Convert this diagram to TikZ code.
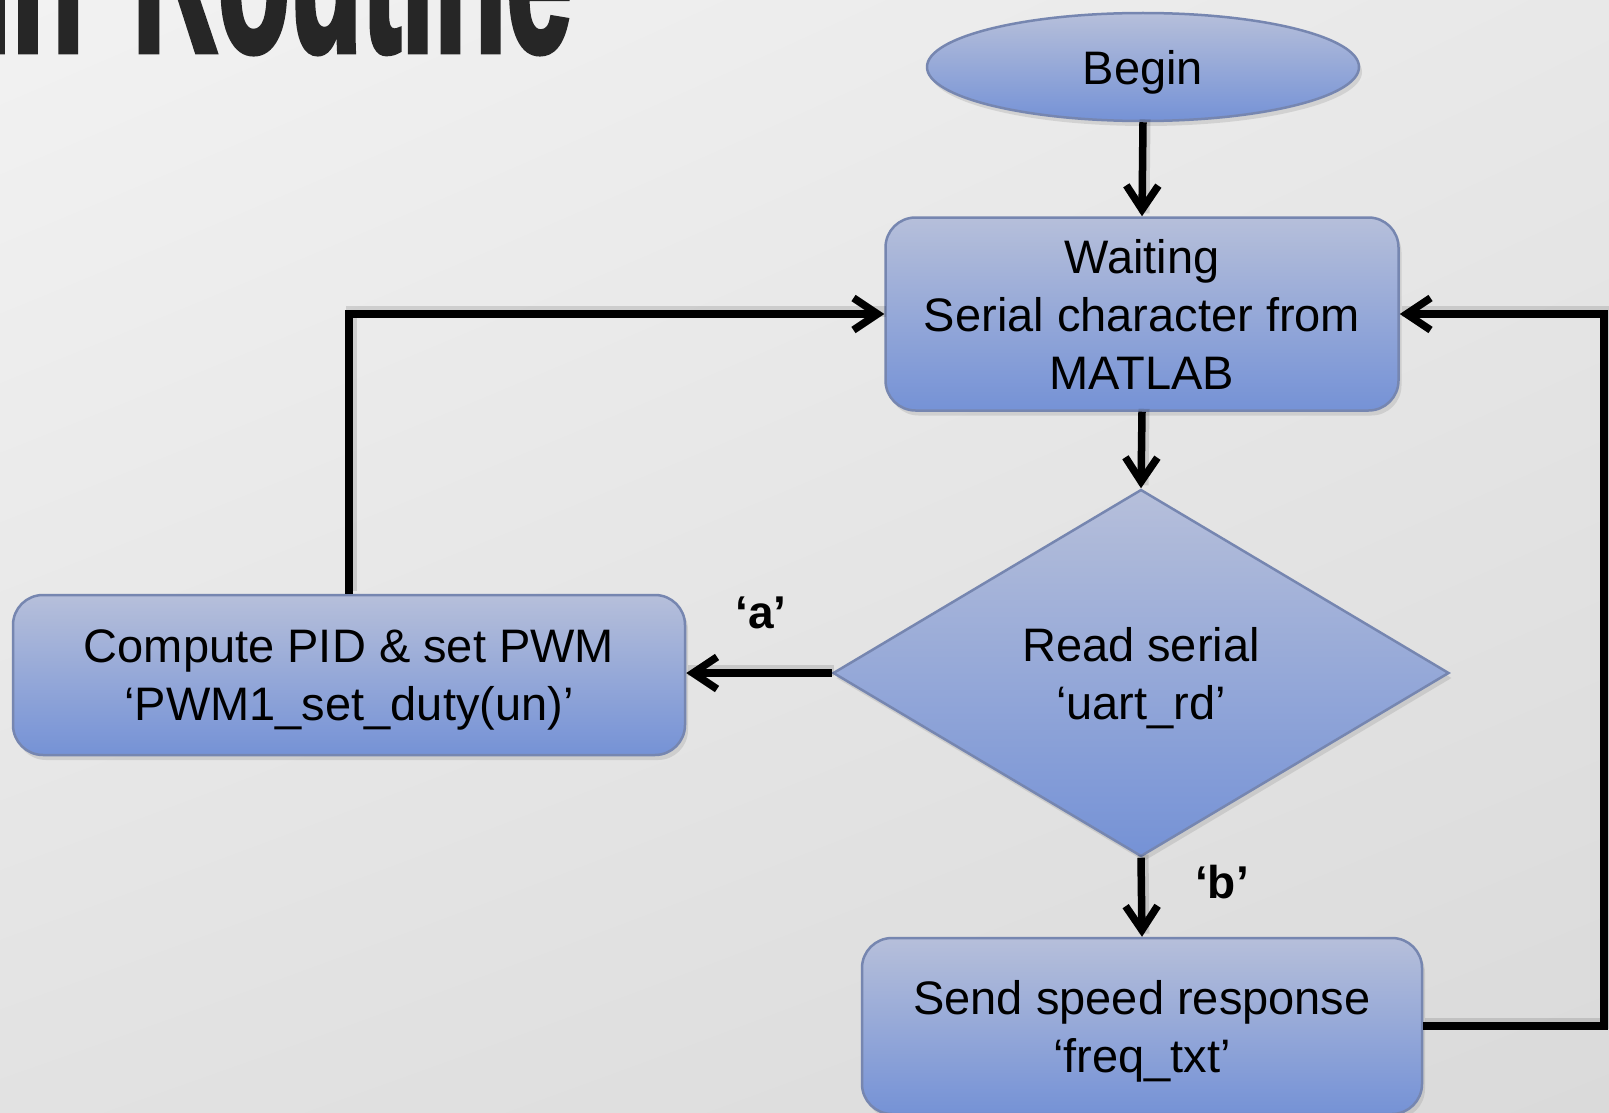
\documentclass[tikz,border=0pt]{standalone}
\usepackage{fontspec}
\setmainfont{Liberation Sans}
\newfontfamily\headingfont{Liberation Sans}[FakeBold=3]
\usetikzlibrary{arrows.meta,shapes.geometric,shadows,shadings}
\definecolor{boxtop}{RGB}{182,191,218}
\definecolor{boxbot}{RGB}{117,146,214}
\definecolor{boxedge}{RGB}{118,134,176}
\definecolor{titleink}{RGB}{38,38,38}
\definecolor{bgA}{RGB}{242,242,242}
\definecolor{bgB}{RGB}{232,232,232}
\definecolor{bgC}{RGB}{226,226,226}
\definecolor{bgD}{RGB}{218,218,218}

\begin{document}
\begin{tikzpicture}[x=1pt,y=-1pt,
  shapebase/.style={draw=boxedge, line width=2.5pt, top color=boxtop, bottom color=boxbot,
    align=center, inner sep=0pt, text depth=0pt, font=\fontsize{47}{58}\selectfont,
    drop shadow={opacity=0.22, shadow xshift=3pt, shadow yshift=-5pt}},
  flowbox/.style={shapebase, rounded corners=30pt},
  terminal/.style={shapebase, ellipse},
  decision/.style={shapebase, diamond},
  flowarrow/.style={line width=7.5pt, line join=miter,
    -{Straight Barb[length=24pt,width=32pt]},
    preaction={draw=black, opacity=0.12, line width=11pt, -,
      transform canvas={shift={(2pt,3pt)}}}},
  caselabel/.style={font=\fontsize{46}{46}\selectfont\bfseries, inner sep=0pt}
]
% page area and background
\useasboundingbox (0,0) rectangle (1609,1113);
\clip (0,0) rectangle (1609,1113);
\shade[upper left=bgA, upper right=bgB, lower left=bgC, lower right=bgD] (0,0) rectangle (1609,1113);

% heading
\node[anchor=base east, inner sep=0pt, text=titleink,
      font=\headingfont\bfseries\fontsize{118}{118}\selectfont] (title) at (572,51)
  {\scalebox{1}[1.9]{Main\hspace{49pt}Routine}};

% flowchart nodes
\node[terminal, minimum width=432pt, minimum height=108pt] (begin) at (1143,67) {Begin};
\node[flowbox, minimum width=513pt, minimum height=193pt] (wait) at (1142,314)
  {Waiting\\Serial character from\\MATLAB};
\node[decision, minimum width=616pt, minimum height=367pt] (read) at (1141,673)
  {Read serial\\‘uart\_rd’};
\node[flowbox, minimum width=672pt, minimum height=160pt] (pid) at (349,675)
  {Compute PID \& set PWM\\‘PWM1\_set\_duty(un)’};
\node[flowbox, minimum width=560pt, minimum height=176pt] (send) at (1142,1026)
  {Send speed response\\‘freq\_txt’};

\coordinate (rloop) at (1604,314);

% connectors
\draw[flowarrow] (begin.south) -- (wait.north);
\draw[flowarrow] (wait.south) -- (read.north);
\draw[flowarrow] (read.west) -- (read.west -| pid.east);
\draw[flowarrow] (pid.north) |- (wait.west);
\draw[flowarrow] (read.south) -- (send.north);
\draw[flowarrow] (send.east) -| (rloop) -- (wait.east);

% branch labels
\node[caselabel] (la) at (761,613) {‘a’};
\node[caselabel] (lb) at (1222,882) {‘b’};
\end{tikzpicture}
\end{document}
